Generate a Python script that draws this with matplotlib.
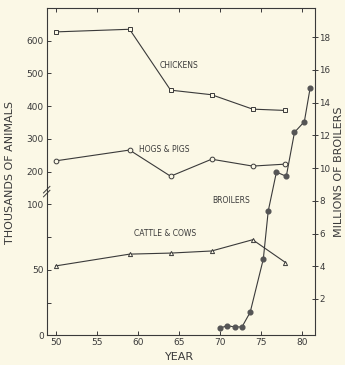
import numpy as np
import matplotlib
matplotlib.use("Agg")
import matplotlib.pyplot as plt

# ---- data -------------------------------------------------------------
years = [50, 59, 64, 69, 74, 78]
chickens = [627, 635, 449, 435, 391, 387]      # thousands
hogs = [233, 266, 186, 238, 217, 223]          # thousands
cattle = [53, 62, 62.8, 64.4, 73, 55.6]        # thousands

broiler_years = [70, 70.9, 71.8, 72.7, 73.7, 75.3, 75.9, 76.9, 78.1, 79.1, 80.3, 81.0]
broilers = [0.21, 0.37, 0.29, 0.29, 1.19, 4.44, 7.38, 9.76, 9.5, 12.19, 12.84, 14.88]  # millions

x_ticks = [50, 55, 60, 65, 70, 75, 80]
left_ticks = [0, 25, 50, 75, 100, 200, 300, 400, 500, 600]
left_labels = ["0", "", "50", "", "100", "200", "300", "400", "500", "600"]
right_ticks = [2, 4, 6, 8, 10, 12, 14, 16, 18]

BG = "#fbf8e6"
INK = "#3a3a3a"
W, H = 345, 365

plt.rcParams["font.family"] = ["DejaVu Sans"]


# broken left scale: 0-100 stretched 4x, above 100 at unit scale
def fwd(v):
    v = np.asarray(v, dtype=float)
    return np.where(v <= 100, 4 * v, v + 300)


def inv(p):
    p = np.asarray(p, dtype=float)
    return np.where(p <= 400, p / 4, p - 300)


fig = plt.figure(figsize=(W / 100, H / 100), dpi=100, facecolor=BG)
ax = fig.add_axes([46.7 / W, 1 - 335.3 / H, (315 - 46.7) / W, (335.3 - 8) / H])
ax.set_facecolor(BG)
ax.set_yscale("function", functions=(fwd, inv))
ax.set_ylim(0, 700)
ax.set_xlim(48.9, 81.6)

lw = 0.8
ax.plot(years, chickens, color=INK, lw=lw, marker="s", ms=3.2,
        mfc=BG, mec=INK, mew=0.7)
ax.plot(years, hogs, color=INK, lw=lw, marker="o", ms=3.4,
        mfc=BG, mec=INK, mew=0.7)
ax.plot(years, cattle, color=INK, lw=lw, marker="^", ms=3.0,
        mfc=BG, mec=INK, mew=0.7)

ax.set_yticks(left_ticks)
ax.set_yticklabels(left_labels)
ax.set_xticks(x_ticks)
ax.tick_params(axis="both", direction="in", length=3, width=0.7,
               labelsize=6.5, colors=INK, pad=2)
ax.tick_params(axis="x", top=True, labeltop=False)
for s in ax.spines.values():
    s.set_color(INK)
    s.set_linewidth(0.8)

# axis titles
fig.text(180 / W, 1 - 357 / H, "YEAR", fontsize=8, color=INK,
         ha="center", va="center")
fig.text(10 / W, 1 - 172 / H, "THOUSANDS OF ANIMALS", fontsize=8, color=INK,
         ha="center", va="center", rotation=90)
fig.text(338.5 / W, 1 - 172 / H, "MILLIONS OF BROILERS", fontsize=8, color=INK,
         ha="center", va="center", rotation=90)

# axis break marks on left spine
for dy in (-0.006, 0.006):
    yb = 0.439 + dy
    ax.plot([-0.012, 0.012], [yb - 0.01, yb + 0.01], transform=ax.transAxes,
            color=INK, lw=0.7, clip_on=False)

# series labels
lbl = dict(fontsize=5.5, color=INK, ha="center", va="center")
ax.text(178.5, H - 65, "CHICKENS", transform=None, **lbl)
ax.text(164, H - 150, "HOGS & PIGS", transform=None, **lbl)
ax.text(231.5, H - 200.7, "BROILERS", transform=None, **lbl)
ax.text(165.5, H - 234, "CATTLE & COWS", transform=None, **lbl)

# broilers on right axis
ax2 = ax.twinx()
ax2.set_ylim(-0.22, 19.79)
ax2.plot(broiler_years, broilers, color=INK, lw=lw, marker="o", ms=3.4,
         mfc="#555555", mec="#555555")
ax2.set_yticks(right_ticks)
ax2.tick_params(axis="y", direction="inout", length=5, width=0.7,
                labelsize=6.3, colors=INK, pad=0.5)
for s in ax2.spines.values():
    s.set_visible(False)

fig.savefig("out.png", dpi=100, facecolor=BG)
